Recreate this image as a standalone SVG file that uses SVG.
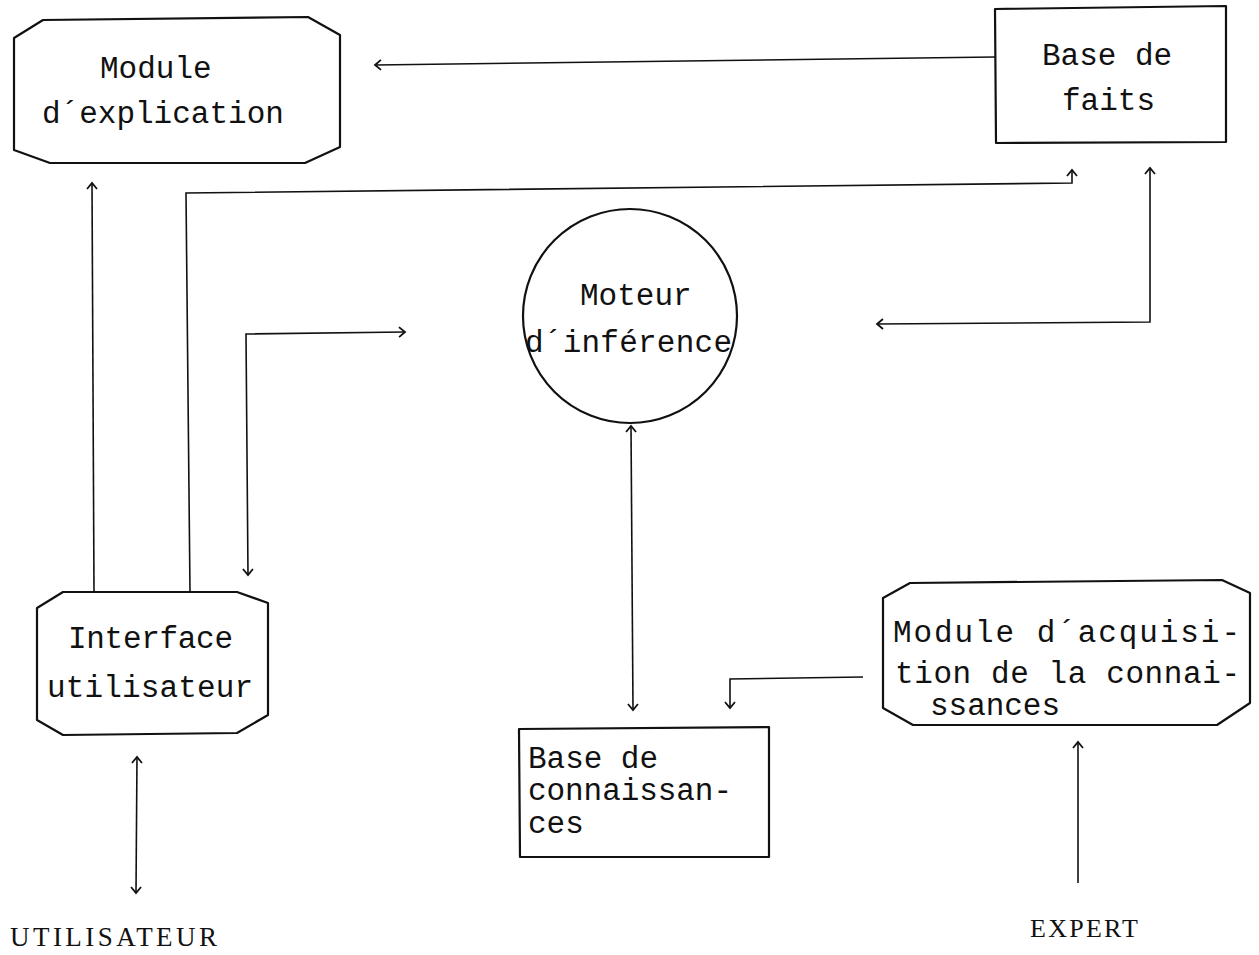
<svg xmlns="http://www.w3.org/2000/svg" width="1259" height="955" viewBox="0 0 1259 955">
<defs>
<style>
.box{fill:none;stroke:#111;stroke-width:2.2;stroke-linejoin:round}
.t{font-family:"Liberation Mono","Courier New",monospace;font-size:31px;fill:#111}
.s{font-family:"Liberation Serif","Times New Roman",serif;fill:#111}
.c{fill:none;stroke:#111;stroke-width:1.6}
</style>
<marker id="ah" viewBox="-8 -6 10 12" markerWidth="10" markerHeight="12" refX="0" refY="0" orient="auto-start-reverse" markerUnits="userSpaceOnUse">
<path d="M-6,-5 L0,0 L-6,5" fill="none" stroke="#111" stroke-width="1.8"/>
</marker>
</defs>
<rect width="1259" height="955" fill="#fff"/>

<g id="module-explication">
<path class="box" d="M43,20 L308,17 L340,35 L340,147 L305,163 L50,163 L14,150 L14,38 Z"/>
<text class="t" x="100" y="78">Module</text>
<text class="t" x="42" y="123">d´explication</text>
</g>

<g id="base-de-faits">
<path class="box" d="M995,9 L1226,6 L1226,142 L996,143 Z"/>
<text class="t" x="1042" y="65">Base de</text>
<text class="t" x="1062" y="110">faits</text>
</g>

<g id="moteur-inference">
<circle class="box" cx="630" cy="316" r="107"/>
<text class="t" x="580" y="305">Moteur</text>
<text class="t" x="525" y="352" textLength="207" lengthAdjust="spacing">d´inférence</text>
</g>

<g id="interface-utilisateur">
<path class="box" d="M63,592 L237,592 L268,603 L268,715 L237,733 L63,735 L37,720 L37,608 Z"/>
<text class="t" x="68" y="648" textLength="165" lengthAdjust="spacing">Interface</text>
<text class="t" x="47" y="697" textLength="206" lengthAdjust="spacing">utilisateur</text>
</g>

<g id="module-acquisition">
<path class="box" d="M910,583 L1222,580 L1250,593 L1250,703 L1217,725 L913,725 L883,708 L883,598 Z"/>
<text class="t" x="893" y="642" textLength="347" lengthAdjust="spacing">Module d´acquisi-</text>
<text class="t" x="895" y="683" textLength="345" lengthAdjust="spacing">tion de la connai-</text>
<text class="t" x="930" y="715" textLength="130" lengthAdjust="spacing">ssances</text>
</g>

<g id="base-connaissances">
<path class="box" d="M519,729 L769,727 L769,857 L520,857 Z"/>
<text class="t" x="528" y="768" textLength="130" lengthAdjust="spacing">Base de</text>
<text class="t" x="528" y="800" textLength="204" lengthAdjust="spacing">connaissan-</text>
<text class="t" x="528" y="833">ces</text>
</g>

<g id="utilisateur">
<text class="s" x="10" y="946" font-size="27" textLength="207" lengthAdjust="spacing">UTILISATEUR</text>
</g>

<g id="expert">
<text class="s" x="1030" y="937" font-size="26" textLength="108" lengthAdjust="spacing">EXPERT</text>
</g>

<g id="connectors">
<path class="c" d="M995,57 L375,65" marker-end="url(#ah)"/>
<path class="c" d="M94,592 L92,183" marker-end="url(#ah)"/>
<path class="c" d="M190,592 L186,193 L1072,183 L1072,170" marker-end="url(#ah)"/>
<path class="c" d="M405,332 L246,334 L248,575" marker-start="url(#ah)" marker-end="url(#ah)"/>
<path class="c" d="M1150,168 L1150,322 L877,324" marker-start="url(#ah)" marker-end="url(#ah)"/>
<path class="c" d="M631,426 L633,710" marker-start="url(#ah)" marker-end="url(#ah)"/>
<path class="c" d="M863,677 L730,679 L730,708" marker-end="url(#ah)"/>
<path class="c" d="M137,757 L136,893" marker-start="url(#ah)" marker-end="url(#ah)"/>
<path class="c" d="M1078,883 L1078,742" marker-end="url(#ah)"/>
</g>
</svg>
